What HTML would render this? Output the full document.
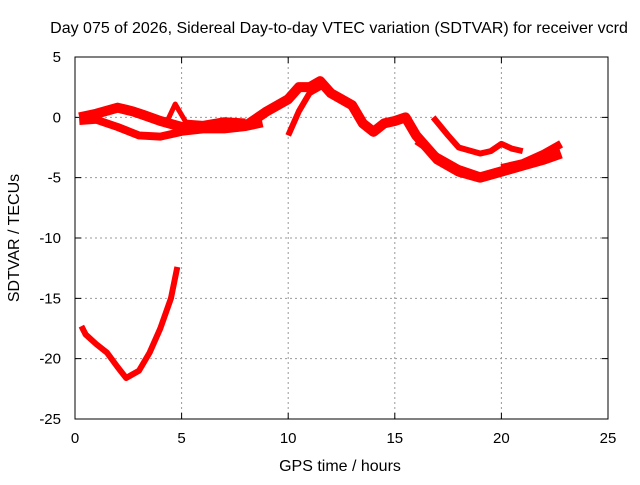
<!DOCTYPE html>
<html><head><meta charset="utf-8"><style>
body{margin:0;background:#fff;font-family:"Liberation Sans",sans-serif}
svg text{font-family:"Liberation Sans",sans-serif;font-size:15px;fill:#000}
</style></head><body>
<svg id="c" width="640" height="480">
<text x="339" y="33" text-anchor="middle" style="font-size:16px">Day 075 of 2026, Sidereal Day-to-day VTEC variation (SDTVAR) for receiver vcrd</text>
<text x="340" y="471" text-anchor="middle" style="font-size:16px">GPS time / hours</text>
<text transform="translate(19,238) rotate(-90)" text-anchor="middle" style="font-size:16px">SDTVAR / TECUs</text>
<g id="grid"></g><g id="marks"></g>
<rect x="75" y="57" width="533" height="362" fill="none" stroke="#000" stroke-width="1"/>
</svg>
<script>
const xTicks=[0,5,10,15,20,25];
const yTicks=[5,0,-5,-10,-15,-20,-25];
const bandUpperH=[0.2,1,2,2.7,3.2,4,5,6,7,8,9,10,10.5,11,11.5,12,13,13.5,14,14.5,15,15.5,16,16.5,17,18,19,20,21,22,22.8];
const bandUpperV=[0,0.3,0.8,0.5,0.2,-0.3,-0.8,-0.8,-0.6,-0.7,0.5,1.5,2.5,2.5,3,2,1,-0.5,-1.2,-0.5,-0.3,0,-1.5,-2.5,-3.5,-4.5,-5,-4.5,-4,-3.5,-3];
const bandLowerH=[0.2,1,2,3,4,5,6,7,8,8.8];
const bandLowerV=[-0.3,-0.2,-0.8,-1.5,-1.6,-1.2,-1,-1,-0.8,-0.5];
const wiggleH=[3.2,3.8,4.3,4.7,5.2,6,7,8];
const wiggleV=[0.2,0,-0.4,1.1,-0.4,-0.5,-0.2,-0.3];
const spikeH=[10,10.5,11,11.5];
const spikeV=[-1.5,0.5,2,2.5];
const branchH=[16.8,17.5,18,19,19.5,20,20.5,21];
const branchV=[0,-1.5,-2.5,-3,-2.8,-2.2,-2.6,-2.8];
const secondH=[16,17,18,19,20,21];
const secondV=[-2,-3.2,-4.2,-4.8,-4.3,-4];
const lateH=[20,21,22,22.8];
const lateV=[-4.2,-3.8,-3,-2.2];
const dipH=[0.3,0.5,1,1.5,2,2.4,3,3.5,4,4.5,4.8];
const dipV=[-17.3,-18,-18.8,-19.5,-20.7,-21.6,-21,-19.5,-17.5,-15,-12.4];
const X=h=>75+h*533/25, Y=v=>57+(5-v)*362/30;
const ns="http://www.w3.org/2000/svg";
const grid=document.getElementById('grid'), marks=document.getElementById('marks'), svg=document.getElementById('c');
xTicks.forEach(t=>{
 const x=X(t);
 if(t>0&&t<25){const l=document.createElementNS(ns,'line');
 
 
 l.setAttribute('x1',x);l.setAttribute('x2',x);l.setAttribute('y1',57);l.setAttribute('y2',419);l.setAttribute('stroke','#999');l.setAttribute('stroke-dasharray','2,3');grid.appendChild(l);}
 const tk=document.createElementNS(ns,'path');
 
 
 tk.setAttribute('d',`M${x},419v-6M${x},57v6`);tk.setAttribute('stroke','#000');grid.appendChild(tk);
 const tx=document.createElementNS(ns,'text');
 
 
 tx.setAttribute('x',x);tx.setAttribute('y',443);tx.setAttribute('text-anchor','middle');tx.textContent=t;svg.appendChild(tx);
});
yTicks.forEach(t=>{
 const y=Y(t);
 if(t<5&&t>-25){const l=document.createElementNS(ns,'line');
 
 
 l.setAttribute('x1',75);l.setAttribute('x2',608);l.setAttribute('y1',y);l.setAttribute('y2',y);l.setAttribute('stroke','#999');l.setAttribute('stroke-dasharray','2,3');grid.appendChild(l);}
 const tk=document.createElementNS(ns,'path');
 
 
 tk.setAttribute('d',`M75,${y}h6M608,${y}h-6`);tk.setAttribute('stroke','#000');grid.appendChild(tk);
 const tx=document.createElementNS(ns,'text');
 
 
 tx.setAttribute('x',61);tx.setAttribute('y',y+5);tx.setAttribute('text-anchor','end');tx.textContent=t;svg.appendChild(tx);
});
function series(hs,vs,w,name){
 const p=document.createElementNS(ns,'polyline');
 
 
 p.setAttribute('points',hs.map((h,i)=>X(h)+','+Y(vs[i])).join(' '));
 p.setAttribute('fill','none');p.setAttribute('stroke','#f00');p.setAttribute('stroke-width',w);
 p.setAttribute('stroke-linejoin','round');marks.appendChild(p);
}
series(bandUpperH,bandUpperV,10,'sdtvar-band-upper');
series(bandLowerH,bandLowerV,8,'sdtvar-band-lower');
series(wiggleH,wiggleV,5,'sdtvar-wiggle');
series(spikeH,spikeV,6,'sdtvar-spike');
series(branchH,branchV,6,'sdtvar-branch');
series(secondH,secondV,6,'sdtvar-second');
series(lateH,lateV,8,'sdtvar-late');
series(dipH,dipV,6,'sdtvar-dip');
</script>
</body></html>
